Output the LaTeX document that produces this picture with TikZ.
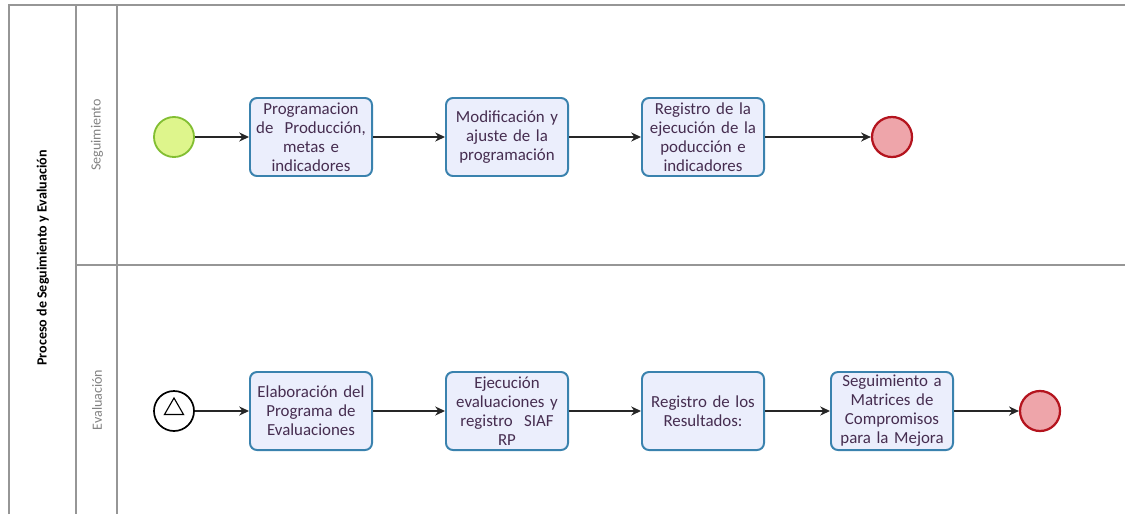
\documentclass[tikz,border=0pt]{standalone}
\usepackage{fontspec}
\setmainfont{Carlito}
\usepackage{xcolor}
\usetikzlibrary{arrows.meta,positioning,shapes.geometric}
\definecolor{taskblue}{RGB}{58,130,174}
\definecolor{taskfill}{RGB}{235,238,252}
\definecolor{tasktext}{RGB}{70,45,80}
\definecolor{startgreen}{RGB}{130,190,50}
\definecolor{startfill}{RGB}{222,245,140}
\definecolor{endred}{RGB}{180,20,30}
\definecolor{endfill}{RGB}{238,165,170}
\definecolor{poolgray}{RGB}{150,150,150}
\definecolor{lanegray}{RGB}{130,130,130}

\begin{document}
\begin{tikzpicture}[x=0.025cm,y=-0.025cm,>=Stealth,
  task/.style={draw=taskblue,line width=1.4pt,fill=taskfill,rounded corners=5pt,
    minimum width=3.05cm,minimum height=1.95cm,text width=3cm,align=center,
    text=tasktext,inner sep=0pt,font=\fontsize{12}{13.5}\selectfont},
  startev/.style={circle,draw=startgreen,fill=startfill,line width=1.3pt,minimum size=1cm,inner sep=0pt},
  endev/.style={circle,draw=endred,fill=endfill,line width=1.6pt,minimum size=1cm,inner sep=0pt},
  msgev/.style={circle,draw=black,fill=white,line width=1.2pt,minimum size=1cm,inner sep=0pt},
  flow/.style={-{Stealth[length=7pt,width=6.5pt]},line width=0.9pt,draw=black!85},
  poolline/.style={draw=poolgray,line width=1.1pt}]
  \useasboundingbox (0,0) rectangle (1125,514);
  % pool y carriles
  \draw[poolline] (9,514) -- (9,5) -- (1125,5);
  \draw[poolline] (76,5) -- (76,514);
  \draw[poolline] (117,5) -- (117,514);
  \draw[poolline] (76,265) -- (1125,265);
  \node[rotate=90,font=\fontsize{10}{12}\bfseries] (pool) at (43,258) {Proceso de Seguimiento y Evaluación};
  \node[rotate=90,text=lanegray,font=\fontsize{10}{12}\selectfont] (laneseg) at (97,135) {Seguimiento};
  \node[rotate=90,text=lanegray,font=\fontsize{10}{12}\selectfont] (laneeval) at (97,400) {Evaluación};
  % carril Seguimiento
  \node[startev] (s1) at (174,137) {};
  \node[task] (prog) at (311,137) {Programacion\\de\ \ Producción,\\metas e\\indicadores};
  \node[task] (modif) at (507,137) {Modificación y\\ajuste de la\\programación};
  \node[task] (regej) at (703,137) {Registro de la\\ejecución de la\\poducción e\\indicadores};
  \node[endev] (e1) at (892,137) {};
  \draw[flow] (s1) -- (prog);
  \draw[flow] (prog) -- (modif);
  \draw[flow] (modif) -- (regej);
  \draw[flow] (regej) -- (e1);
  % carril Evaluación
  \node[msgev] (s2) at (174,411) {};
  \node[regular polygon,regular polygon sides=3,draw,line width=0.8pt,minimum size=0.55cm,inner sep=0pt] (tri) at (174,409) {};
  \node[task] (elab) at (311,411) {Elaboración del\\Programa de\\Evaluaciones};
  \node[task] (ejec) at (507,411) {Ejecución\\evaluaciones y\\registro\ \ SIAF\\RP};
  \node[task] (regres) at (703,411) {Registro de los\\Resultados:};
  \node[task] (segm) at (892,411) {Seguimiento a\\Matrices de\\Compromisos\\para la Mejora};
  \node[endev] (e2) at (1040,411) {};
  \draw[flow] (s2) -- (elab);
  \draw[flow] (elab) -- (ejec);
  \draw[flow] (ejec) -- (regres);
  \draw[flow] (regres) -- (segm);
  \draw[flow] (segm) -- (e2);
\end{tikzpicture}
\end{document}
